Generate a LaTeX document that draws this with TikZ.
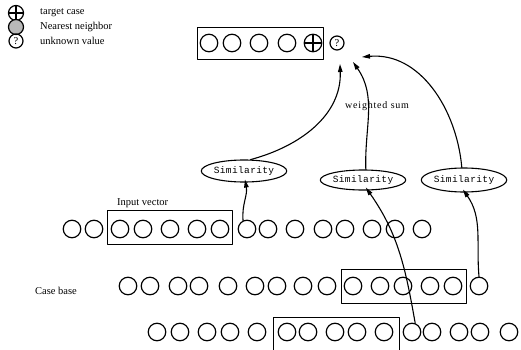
\documentclass[tikz,border=0pt]{standalone}
\usepackage{fontspec}
\setmainfont{Liberation Serif}
\setmonofont{Liberation Mono}
\usepackage{tikz}
\usetikzlibrary{shapes.geometric}
\usetikzlibrary{arrows.meta}
\begin{document}
\begin{tikzpicture}[line cap=round,line join=round,>={Triangle[length=8pt,width=4.5pt]},x=1pt,y=-1pt,
  cell/.style={circle,draw,line width=1.2pt,minimum size=17.5pt,inner sep=0pt},
  small cell/.style={circle,draw,line width=1.2pt,minimum size=14pt,inner sep=0pt,font=\fontsize{10.5}{10}\selectfont},
  target/.style={cell,path picture={\draw[line width=1.2pt] (path picture bounding box.north) -- (path picture bounding box.south) (path picture bounding box.west) -- (path picture bounding box.east);}},
  simnode/.style={ellipse,draw,line width=1.1pt,minimum width=84pt,minimum height=22pt,inner sep=0pt,font=\ttfamily\addfontfeature{LetterSpace=4}\fontsize{9.5}{10}\selectfont},
  win/.style={draw,line width=0.8pt},
  lbl/.style={font=\fontsize{10.5}{12}\selectfont,inner sep=0pt,anchor=west},
  link/.style={->,line width=1.1pt}]
\useasboundingbox (0,0) rectangle (521,350);
% legend
\node[target,minimum size=15pt] (keytarget) at (16,13) {};
\node[cell,minimum size=15pt,fill=gray!55] (keynear) at (16,27) {};
\node[small cell] (keyq) at (16,41) {?};
\node[lbl] (keytargettxt) at (40,13) {target case};
\node[lbl] (keyneartxt) at (40,27) {Nearest neighbor};
\node[lbl] (keyqtxt) at (40,41) {unknown value};
% target case
\draw[win] (197,27) rectangle (323,59);
\foreach \x [count=\i] in {209,232,259,287} \node[cell] (t\i) at (\x,43) {};
\node[target] (t5) at (313,43) {};
\node[small cell] (q) at (337,43) {?};
% case base rows
\foreach \x [count=\i] in {72,94,120,143,170,197,220,247,268,295,323,345,372,395,422}
  \node[cell] (a\i) at (\x,229) {};
\foreach \x [count=\i] in {128,150,178,199,228,255,277,303,327,353,380,403,430,453,479}
  \node[cell] (b\i) at (\x,286) {};
\foreach \x [count=\i] in {157,180,207,230,257,287,308,335,357,384,412,432,459,480,509}
  \node[cell] (c\i) at (\x,332) {};
\draw[win] (107,210) rectangle (232,244);
\draw[win] (341,269) rectangle (466,303);
\draw[win] (273,350) -- (273,317) -- (399,317) -- (399,350);
\node[lbl] (inputtxt) at (117,203) {Input vector};
\node[lbl] (casetxt) at (35,291) {Case base};
% similarity
\node[simnode] (sim1) at (244,171) {Similarity};
\node[simnode,minimum height=20pt] (sim2) at (363,180) {Similarity};
\node[simnode,minimum height=24pt] (sim3) at (464,180) {Similarity};
\node[lbl,font=\addfontfeature{LetterSpace=8}\fontsize{10}{12}\selectfont] (sumtxt) at (345,106) {weighted sum};
\coordinate (tip1) at (340,64);
\coordinate (tip2) at (353,62);
\coordinate (tip3) at (362,57);
\draw[link] (a8.115) to[out=95,in=-80] ([yshift=3pt]sim1.-85);
\draw[link] (c11.70) to[out=100,in=-55] ([yshift=3pt]sim2.-75);
\draw[link] (b15.north) to[out=95,in=-55] ([yshift=3pt]sim3.-95);
\draw[link] (sim1.60) to[out=15,in=-88] (tip1);
\draw[link] (sim2.75) to[out=92,in=-55] (tip2);
\draw[link] (sim3.100) to[out=95,in=5] (tip3);
\end{tikzpicture}
\end{document}
